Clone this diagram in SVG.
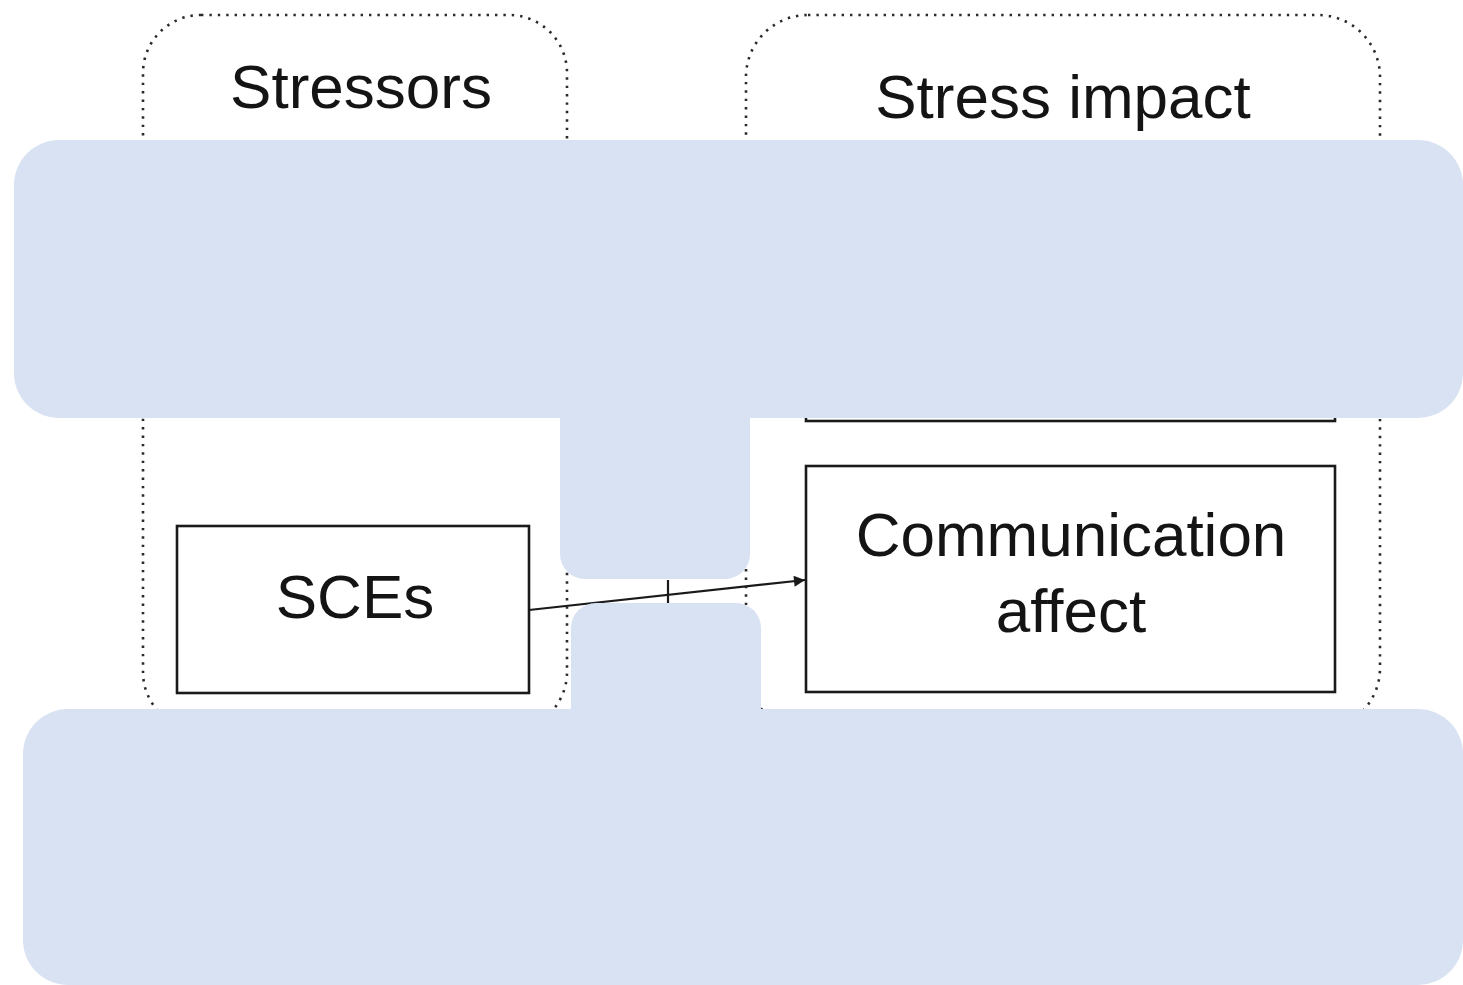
<svg xmlns="http://www.w3.org/2000/svg" width="1463" height="985" viewBox="0 0 1463 985">
<style>
.container{fill:none;stroke:#2a2a2a;stroke-width:2.6;stroke-dasharray:2.4 6;}
.box{fill:#fff;stroke:#1a1a1a;stroke-width:2.6;}
.title{font-family:"Liberation Sans",Arial,sans-serif;font-size:62px;fill:#141414;text-anchor:middle;}
.label{font-family:"Liberation Sans",Arial,sans-serif;font-size:62px;fill:#141414;text-anchor:middle;}
.edge{fill:none;stroke:#1a1a1a;stroke-width:2.2;}
.mask{fill:#D9E2F3;}
</style>
<defs>
<marker id="arrow" viewBox="0 0 10 10" refX="10" refY="5" markerWidth="8" markerHeight="5" markerUnits="strokeWidth" orient="auto">
<path d="M0,0 L10,5 L0,10 z" fill="#1a1a1a"/>
</marker>
</defs>
<rect width="1463" height="985" fill="#fff"/>
<g id="stressors">
<rect class="container" x="143" y="15" width="424" height="715" rx="58"/>
<text class="title" x="361" y="108">Stressors</text>
</g>
<g id="stress-impact">
<rect class="container" x="746" y="15" width="634" height="715" rx="62"/>
<text class="title" x="1063" y="118">Stress impact</text>
</g>
<g id="hidden-box">
<rect class="box" x="806" y="300" width="529" height="121"/>
</g>
<g id="sces">
<rect class="box" x="177" y="526" width="352" height="167"/>
<text class="label" x="355" y="618">SCEs</text>
</g>
<g id="communication-affect">
<rect class="box" x="806" y="466" width="529" height="226"/>
<text class="label" x="1071" y="556">Communication</text>
<text class="label" x="1071" y="632">affect</text>
</g>
<g id="connectors">
<line class="edge" x1="529" y1="610" x2="805" y2="580" marker-end="url(#arrow)"/>
<line class="edge" x1="668" y1="580" x2="668" y2="603"/>
</g>
<g id="overlays">
<rect class="mask" x="14" y="140" width="1449" height="278" rx="45"/>
<rect class="mask" x="560" y="380" width="190" height="199" rx="25"/>
<rect class="mask" x="571" y="603" width="190" height="150" rx="25"/>
<rect class="mask" x="23" y="709" width="1440" height="276" rx="45"/>
</g>
</svg>
